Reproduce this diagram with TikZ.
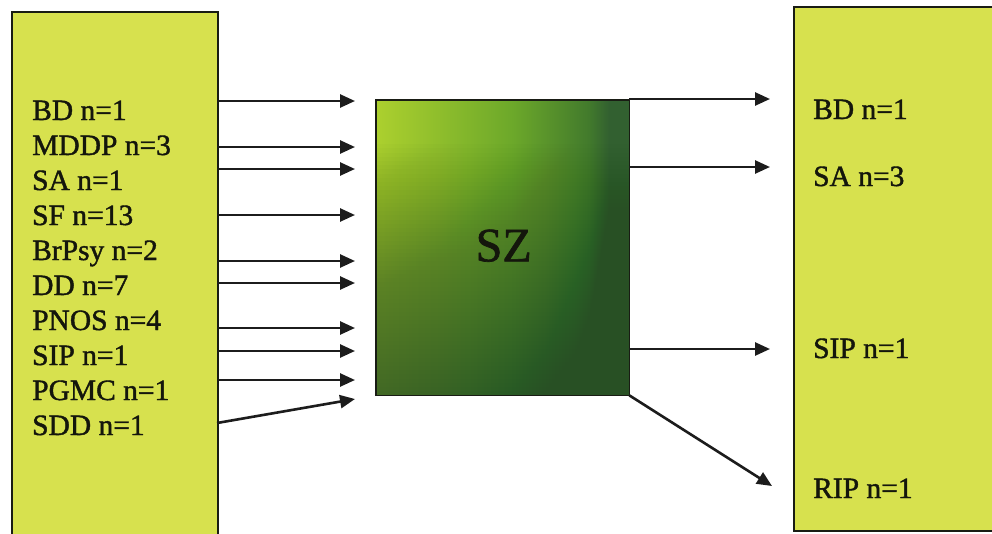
\documentclass[tikz,border=0pt]{standalone}
\usepackage{fontspec}
\setmainfont[FakeBold=1.4]{Liberation Serif}
\usetikzlibrary{arrows.meta,calc}
\definecolor{boxy}{RGB}{215,225,78}
\definecolor{edgec}{RGB}{25,28,20}
\definecolor{arrowc}{RGB}{28,28,28}
\definecolor{textc}{RGB}{20,22,12}
\definecolor{gtl}{RGB}{172,208,46}
\definecolor{gmid}{RGB}{108,168,42}
\definecolor{gdka}{RGB}{66,122,44}
\definecolor{gdkb}{RGB}{50,96,48}
\definecolor{gover}{RGB}{40,80,36}
\pgfdeclarehorizontalshading{szh}{100bp}{color(0bp)=(gtl); color(25bp)=(gtl); color(52bp)=(gmid); color(67bp)=(gdka); color(71bp)=(gdkb); color(75bp)=(gdkb); color(100bp)=(gdkb)}
\tikzset{
  sidebox/.style={draw=edgec, line width=1.6pt, fill=boxy, anchor=north west, inner sep=0pt},
  lbl/.style={anchor=base west, inner sep=0pt, text=textc, font=\fontsize{29.5}{35}\selectfont},
  arr/.style={line width=2.6pt, draw=arrowc, -{Triangle[length=15pt,width=13pt]}},
}
\begin{document}
\begin{tikzpicture}[x=1pt,y=-1pt]
\useasboundingbox (0,0) rectangle (992,533);
\clip (0,0) rectangle (992,533);
\fill[white] (0,0) rectangle (992,533);
% side boxes
\node[sidebox, minimum width=206pt, minimum height=545pt] (lbox) at (11,11) {};
\node[sidebox, minimum width=260pt, minimum height=524pt] (rbox) at (793,6) {};
% centre box
\node[anchor=north west, inner sep=0pt, minimum width=253pt, minimum height=295pt, shading=szh] (sz) at (376,100) {};
\foreach \k in {0,...,59}{
  \fill[gover, fill opacity=0.021] ($(sz.north west)!{0.15+0.85*\k/60}!(sz.south west)$) rectangle (sz.south east);
}
\draw[draw=edgec, line width=1.4pt] (sz.north west) rectangle (sz.south east);
\node[inner sep=0pt, text=textc, font=\fontsize{48}{56}\selectfont] (szl) at ($(sz.center)+(1,-2)$) {SZ};
% left labels
\foreach \t [count=\i] in {BD n=1, MDDP n=3, SA n=1, SF n=13, BrPsy n=2, DD n=7, PNOS n=4, SIP n=1, PGMC n=1, SDD n=1}{
  \node[lbl] (l\i) at (32,{85+35*\i}) {\t};
}
% right labels
\node[lbl] (r1) at (813,119) {BD n=1};
\node[lbl] (r2) at (813,186) {SA n=3};
\node[lbl] (r3) at (813,358) {SIP n=1};
\node[lbl] (r4) at (813,498) {RIP n=1};
% left arrows
\foreach \y [count=\i] in {101,147,169,215,261,283,328,351,380}{
  \coordinate (ls\i) at (217,\y);
  \coordinate (le\i) at (355,\y);
  \draw[arr] (ls\i) -- (le\i);
}
\coordinate (ls10) at (217,423);
\coordinate (le10) at (355,399);
\draw[arr] (ls10) -- (le10);
% right arrows
\foreach \y [count=\i] in {99,167,349}{
  \coordinate (rs\i) at (629,\y);
  \coordinate (re\i) at (770,\y);
  \draw[arr] (rs\i) -- (re\i);
}
\coordinate (re4) at (772,486);
\draw[arr] (sz.south east) -- (re4);
\end{tikzpicture}
\end{document}
